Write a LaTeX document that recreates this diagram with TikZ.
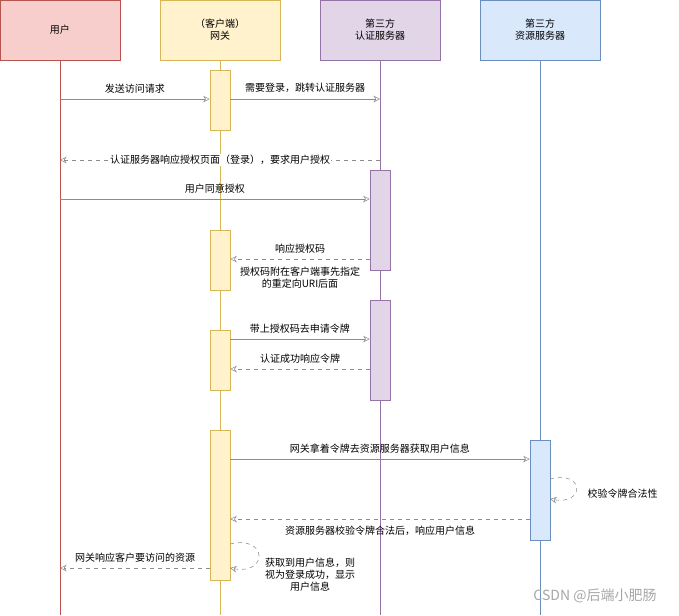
\documentclass[tikz,border=0pt]{standalone}
\usepackage{fontspec}
\setmainfont{Noto Sans CJK SC}
\usetikzlibrary{arrows.meta}
\definecolor{rf}{HTML}{F8CECC}\definecolor{rs}{HTML}{B85450}
\definecolor{yf}{HTML}{FFF2CC}\definecolor{ys}{HTML}{D6B656}
\definecolor{pf}{HTML}{E1D5E7}\definecolor{ps}{HTML}{9673A6}
\definecolor{bf}{HTML}{DAE8FC}\definecolor{bs}{HTML}{6C8EBF}
\begin{document}
\begin{tikzpicture}[x=0.75pt,y=-0.75pt,font=\fontsize{7.5}{9}\selectfont,
 hd/.style={draw=#1,minimum width=90pt,minimum height=45pt,align=center,inner sep=0pt},
 act/.style={draw=#1,minimum width=15pt,inner sep=0pt},
 msg/.style={draw=gray!90,-{Stealth[open,length=5pt,width=5pt]}},
 ret/.style={msg,dashed},
 lb/.style={fill=white,inner sep=1pt}]
\useasboundingbox (0,0) rectangle (679,615);
\node[hd=rs,fill=rf] (u) at (60,30) {用户};
\node[hd=ys,fill=yf] (g) at (220,30) {（客户端）\\网关};
\node[hd=ps,fill=pf] (a) at (380,30) {第三方\\认证服务器};
\node[hd=bs,fill=bf] (r) at (540,30) {第三方\\资源服务器};
\coordinate (ue) at (60,615);\coordinate (ge) at (220,615);
\coordinate (ae) at (380,615);\coordinate (re) at (540,615);
\draw[rs] (u) -- (ue); \draw[ys] (g) -- (ge); \draw[ps] (a) -- (ae); \draw[bs] (r) -- (re);
\foreach \n/\t/\b in {g1/70/130,g2/230/290,g3/330/390,g4/430/580}
 \node[act=ys,fill=yf,minimum height={(\b-\t)*0.75pt}] (\n) at (220,{(\t+\b)/2}) {};
\foreach \n/\t/\b in {a1/170/270,a2/300/400}
 \node[act=ps,fill=pf,minimum height={(\b-\t)*0.75pt}] (\n) at (380,{(\t+\b)/2}) {};
\node[act=bs,fill=bf,minimum height=75pt] (r1) at (540,490) {};
% messages
\coordinate (p1) at (60,99);
\draw[msg] (p1) -- (g1.west|-p1) node[midway,above=1pt] {发送访问请求};
\draw[msg] (g1.east|-p1) -- (380,99) coordinate (p2) node[midway,above=1pt] {需要登录，跳转认证服务器};
\coordinate (p3) at (380,160);\coordinate (p3e) at (60,160);
\draw[ret] (p3) -- (p3e) node[midway,lb] {认证服务器响应授权页面（登录），要求用户授权};
\coordinate (p4) at (60,199);
\draw[msg] (p4) -- (a1.west|-p4) node[midway,above=1pt] {用户同意授权};
\coordinate (p5) at (370,259);
\draw[ret] (p5) -- (g2.east|-p5) node[midway,above=1pt] {响应授权码};
\node[align=center] (n1) at (300,278) {授权码附在客户端事先指定\\的重定向URI后面};
\coordinate (p6) at (230,339);
\draw[msg] (p6) -- (a2.west|-p6) node[midway,above=1pt] {带上授权码去申请令牌};
\coordinate (p7) at (370,369);
\draw[ret] (p7) -- (g3.east|-p7) node[midway,above=1pt] {认证成功响应令牌};
\coordinate (p8) at (230,459);
\draw[msg] (p8) -- (r1.west|-p8) node[midway,above=1pt] {网关拿着令牌去资源服务器获取用户信息};
\coordinate (s1) at (550,479);\coordinate (s2) at (550,499);
\draw[ret] (s1) .. controls (585,470) and (585,505) .. (s2);
\node[anchor=west] (n2) at (583,494) {校验令牌合法性};
\coordinate (p9) at (530,519);
\draw[ret] (p9) -- (g4.east|-p9) node[midway,below=2pt] {资源服务器校验令牌合法后，响应用户信息};
\coordinate (s3) at (230,544);\coordinate (s4) at (230,568);
\draw[ret] (s3) .. controls (268,535) and (268,575) .. (s4);
\node[align=center] (n3) at (310,575) {获取到用户信息，则\\视为登录成功，显示\\用户信息};
\coordinate (p10) at (210,568);\coordinate (p10e) at (60,568);
\draw[ret] (p10) -- (p10e) node[midway,above=1pt] {网关响应客户要访问的资源};
\node[text=gray!70,font=\fontsize{10.5}{12}\selectfont] (wm) at (595,596) {CSDN @后端小肥肠};
\end{tikzpicture}
\end{document}
